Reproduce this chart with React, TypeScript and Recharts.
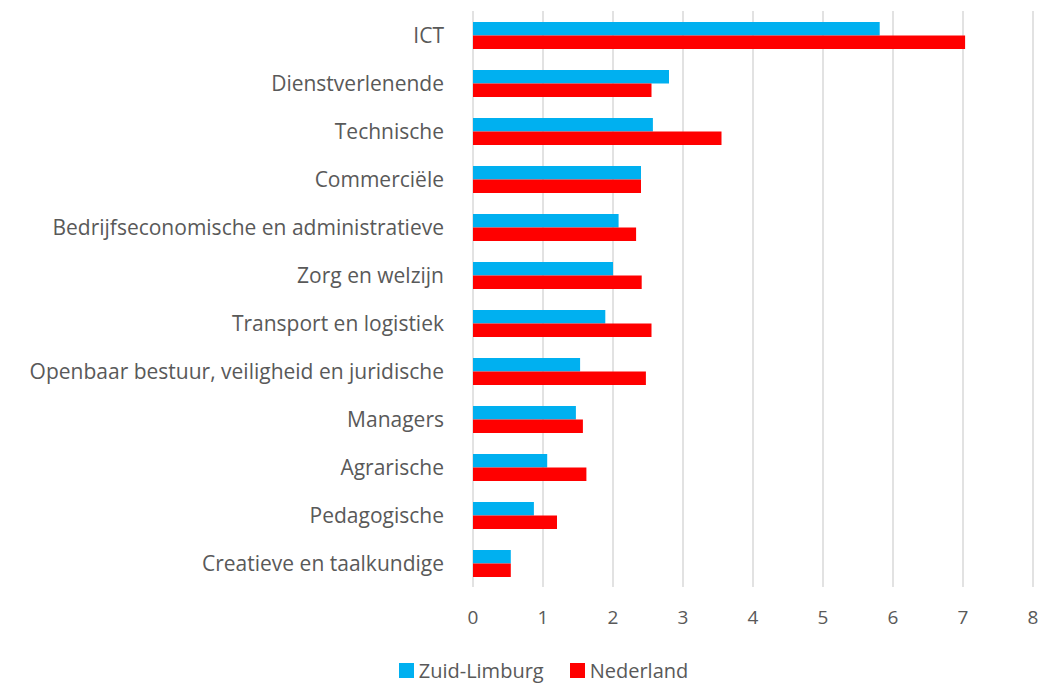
import React from "react";
import { BarChart, Bar, XAxis, YAxis, CartesianGrid, Legend } from "recharts";

const categories = [
  "ICT",
  "Dienstverlenende",
  "Technische",
  "Commerciële",
  "Bedrijfseconomische en administratieve",
  "Zorg en welzijn",
  "Transport en logistiek",
  "Openbaar bestuur, veiligheid en juridische",
  "Managers",
  "Agrarische",
  "Pedagogische",
  "Creatieve en taalkundige",
];
const zuidLimburg = [5.81, 2.8, 2.57, 2.4, 2.08, 2.0, 1.89, 1.53, 1.47, 1.06, 0.87, 0.54];
const nederland = [7.03, 2.55, 3.55, 2.4, 2.33, 2.41, 2.55, 2.47, 1.57, 1.62, 1.2, 0.54];
const xTicks = [0, 1, 2, 3, 4, 5, 6, 7, 8];

const data = categories.map((c, i) => ({
  name: c,
  zl: zuidLimburg[i],
  nl: nederland[i],
}));

const FONT = "'Open Sans', 'Liberation Sans', sans-serif";
const TXT = "#595959";

const LegendContent = () => (
  <div
    style={{
      display: "flex",
      justifyContent: "center",
      alignItems: "center",
      fontFamily: FONT,
      fontSize: 20,
      lineHeight: "25px",
      height: 25,
      color: TXT,
      paddingLeft: 46,
    }}
  >
    <span style={{ display: "inline-block", width: 15, height: 15, background: "#00B0F0", marginRight: 5 }} />
    <span style={{ marginRight: 26 }}>Zuid-Limburg</span>
    <span style={{ display: "inline-block", width: 15, height: 15, background: "#FF0000", marginRight: 5 }} />
    <span>Nederland</span>
  </div>
);

export default function App() {
  return (
    <BarChart
      width={1048}
      height={675}
      data={data}
      layout="vertical"
      margin={{ top: 3, right: 23, bottom: 0, left: 0 }}
      barGap={0}
      barSize={13.5}
    >
      <CartesianGrid horizontal={false} stroke="#D9D9D9" strokeWidth={1.5} />
      <XAxis
        type="number"
        domain={[0, 8]}
        ticks={xTicks}
        axisLine={false}
        tickLine={false}
        tickSize={0}
        tickMargin={24}
        height={40}
        tick={{ fill: TXT, fontSize: 19, fontFamily: FONT }}
      />
      <YAxis
        type="category"
        dataKey="name"
        width={465}
        axisLine={false}
        tickLine={false}
        tickSize={0}
        tickMargin={29}
        interval={0}
        tick={{ fill: TXT, fontSize: 21, fontFamily: FONT, dy: 1 }}
      />
      <Legend
        verticalAlign="bottom"
        wrapperStyle={{ paddingTop: 31 }}
        content={<LegendContent />}
      />
      <Bar dataKey="zl" name="Zuid-Limburg" fill="#00B0F0" isAnimationActive={false} />
      <Bar dataKey="nl" name="Nederland" fill="#FF0000" isAnimationActive={false} />
    </BarChart>
  );
}
